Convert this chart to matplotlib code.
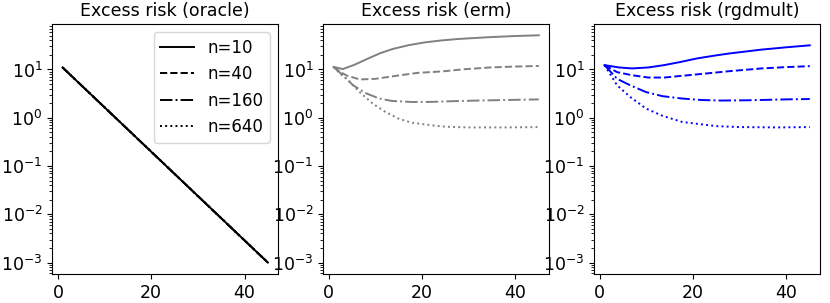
import matplotlib
matplotlib.use('Agg')
import matplotlib.pyplot as plt

# sample sizes and line styles
sizes = [10, 40, 160, 640]
styles = ['-', '--', '-.', ':']

# oracle: same curve for every n (straight line on log scale)
oracle_x = [1, 10, 20, 30, 40, 45]
oracle_y = [11.0, 1.64, 0.198, 0.0239, 0.00288, 0.001]

# erm (x, y per n)
erm_x = {
    10:  [1, 3, 5.4, 8.2, 11, 13.7, 17.2, 20.7, 24.2, 27.6, 34.6, 40, 45],
    40:  [1, 2.5, 3.8, 6.6, 10, 14.9, 19, 24.2, 29, 34.6, 40, 45],
    160: [1, 3, 5.2, 8, 10.8, 13.5, 17.7, 22, 26.4, 32, 38, 45],
    640: [1, 2.5, 3.8, 6.6, 9.4, 12.1, 14.9, 17.7, 21.9, 25, 30, 38, 45],
}
erm_y = {
    10:  [11.3, 10.2, 12.4, 16.5, 21.7, 26.6, 32, 36.5, 40, 42.7, 46.8, 49.3, 51],
    40:  [11.3, 8.8, 7.5, 6.2, 6.4, 7.5, 8.5, 9.1, 10.1, 11.0, 11.5, 11.8],
    160: [11.3, 7.6, 4.7, 3.2, 2.5, 2.23, 2.12, 2.13, 2.2, 2.27, 2.33, 2.4],
    640: [11.3, 8.0, 6.4, 3.4, 1.96, 1.32, 0.96, 0.79, 0.70, 0.65, 0.63, 0.63, 0.64],
}

# rgdmult
rgd_x = {
    10:  [1, 4.1, 6.9, 10.4, 13.8, 17.3, 20.8, 24.2, 27.7, 34.7, 40, 45],
    40:  [1, 3.7, 6.9, 10.4, 13.8, 20.8, 27.7, 34.7, 40, 45],
    160: [1, 3.7, 6.5, 9.9, 13.4, 17.6, 21.75, 26, 32, 40, 45],
    640: [1, 3.7, 6.5, 9.9, 13.4, 17.6, 21.75, 25, 30, 38, 45],
}
rgd_y = {
    10:  [12.3, 11.0, 10.5, 11.0, 12.3, 14.3, 16.9, 19.1, 21.4, 25.8, 28.8, 31.6],
    40:  [12.3, 8.8, 7.6, 6.8, 6.8, 7.9, 9.2, 10.5, 11.2, 11.7],
    160: [12.3, 6.4, 4.7, 3.4, 2.8, 2.5, 2.33, 2.27, 2.3, 2.4, 2.44],
    640: [12.3, 4.7, 2.7, 1.55, 1.1, 0.82, 0.73, 0.67, 0.64, 0.63, 0.64],
}

fig, axes = plt.subplots(1, 3, figsize=(8.3, 3.03), dpi=100, sharey=True)
fig.subplots_adjust(left=0.063, right=0.988, bottom=0.096, top=0.921, wspace=0.2)

panels = [
    ('Excess risk (oracle)', 'black', None),
    ('Excess risk (erm)', 'gray', (erm_x, erm_y)),
    ('Excess risk (rgdmult)', 'blue', (rgd_x, rgd_y)),
]

for ax, (title, color, data) in zip(axes, panels):
    for n, ls in zip(sizes, styles):
        if data is None:
            xs, ys = oracle_x, oracle_y
        else:
            xs, ys = data[0][n], data[1][n]
        ax.plot(xs, ys, color=color, linestyle=ls, linewidth=1.4, label=f'n={n}')
    ax.set_yscale('log')
    ax.set_title(title, fontsize=12.5)
    ax.set_xticks([0, 20, 40])
    ax.tick_params(labelsize=12.5, labelleft=True)

axes[0].legend(loc='upper right', fontsize=12)

plt.savefig('out.png', dpi=100)
